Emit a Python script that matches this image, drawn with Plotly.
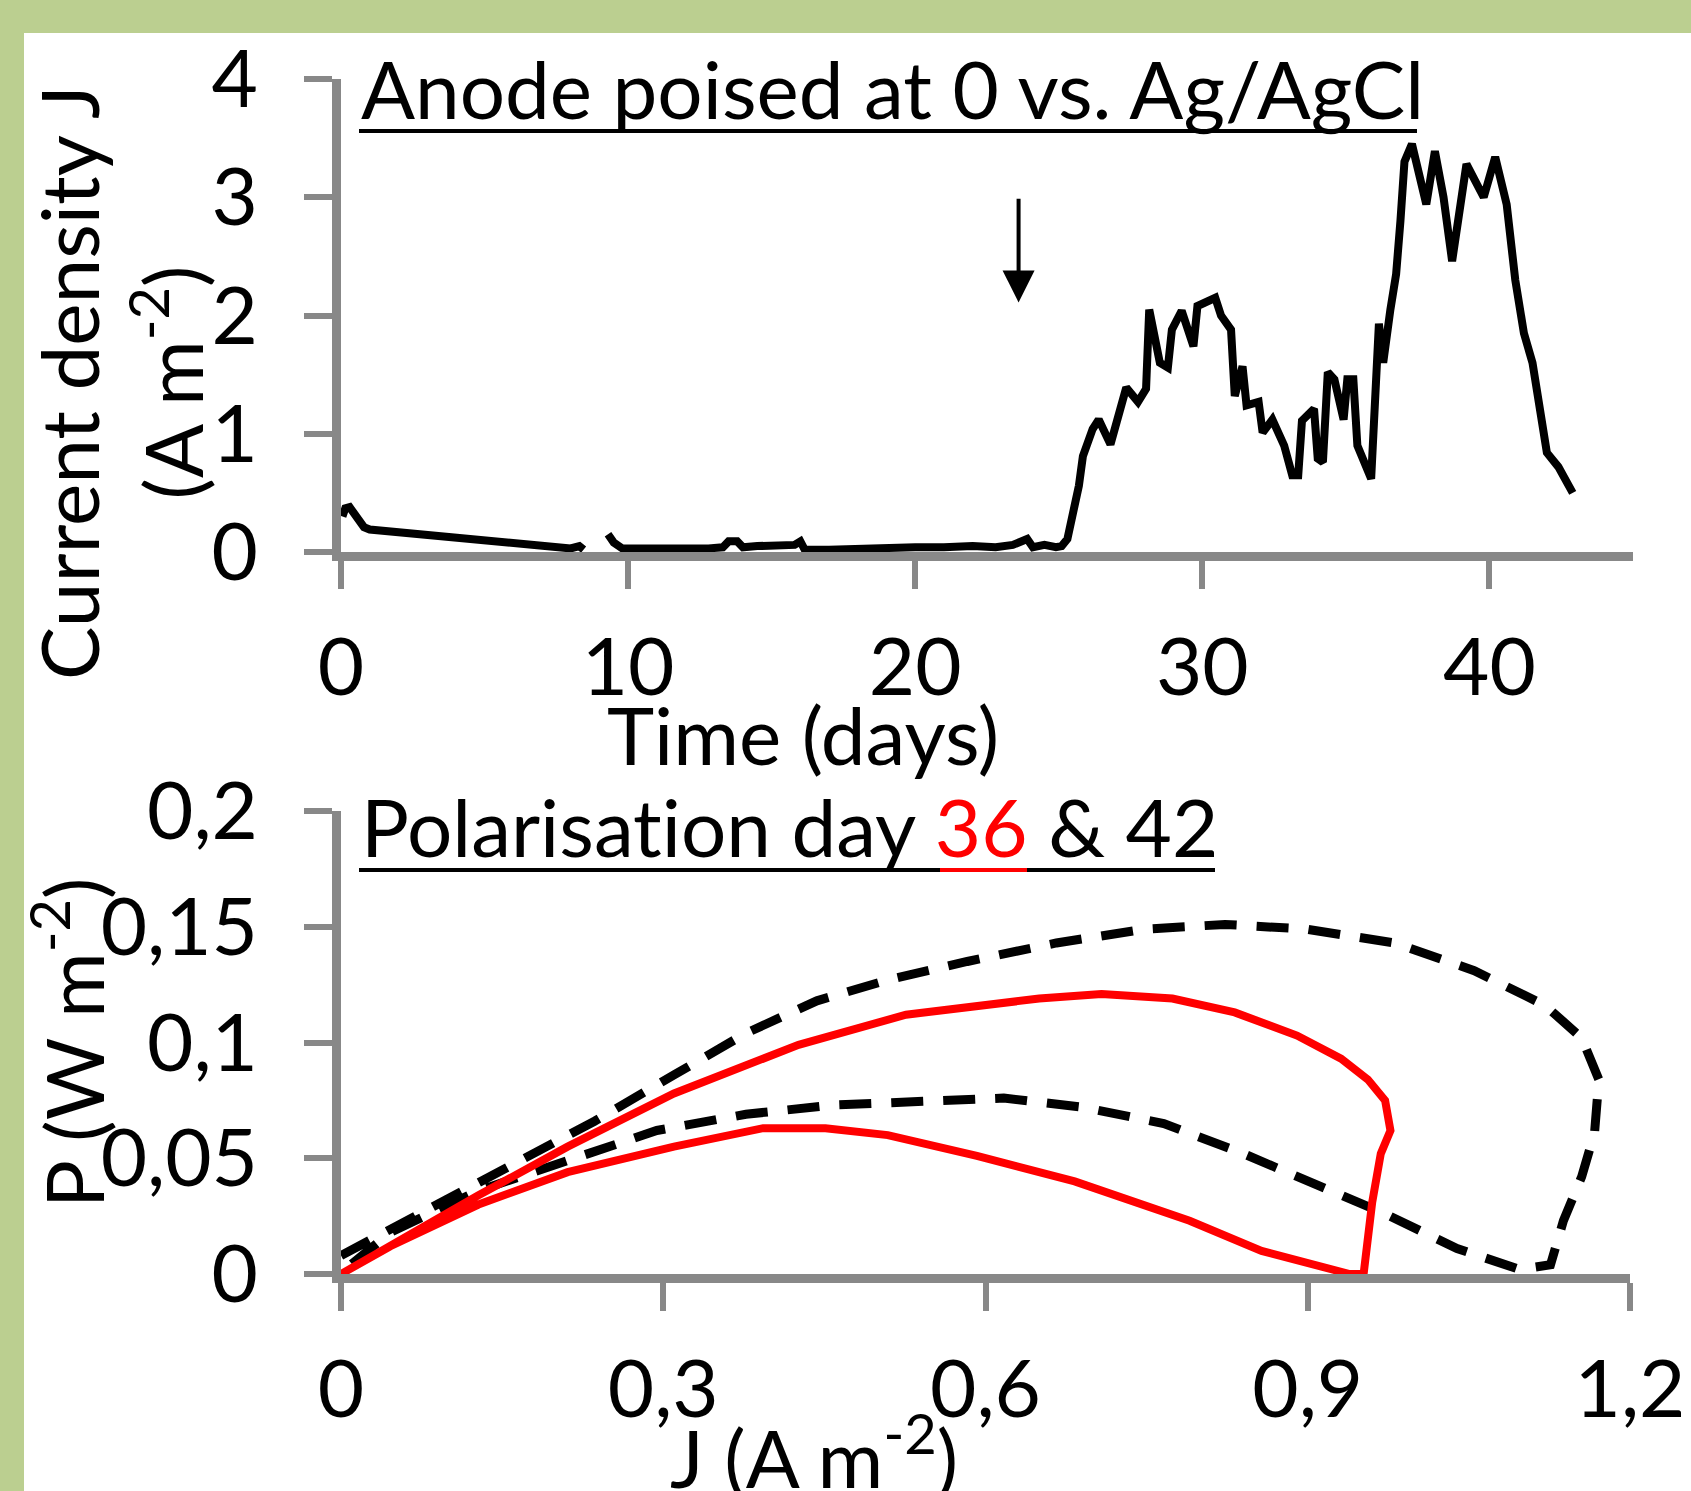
import plotly.graph_objects as go

W, H = 1691, 1491
GREEN = '#bbcf90'
GRAY = '#888888'
FONT = 'Lato'
FS = 80

# ---------------- top chart: current density vs time ----------------
days = [0.05, 0.15, 0.3, 0.5, 0.8, 1.0, 2.5, 4.0, 5.5, 7.0, 7.5, 8.0, 8.3, 8.45, None,
        9.3, 9.5, 9.8, 10.5, 11.2, 12.0, 12.8, 13.3, 13.5, 13.8, 14.0, 14.5, 15.2, 15.8,
        16.0, 16.15, 17.0, 18.0, 19.0, 20.0, 21.0, 22.0, 22.8, 23.4, 23.9, 24.1, 24.5,
        24.9, 25.1, 25.3, 25.7, 25.84, 26.18, 26.39, 26.8, 27.08, 27.35, 27.76, 28.04,
        28.15, 28.38, 28.52, 28.8, 28.94, 29.28, 29.69, 29.83, 30.1, 30.45, 30.65, 31.0,
        31.13, 31.4, 31.54, 31.96, 32.1, 32.44, 32.85, 33.13, 33.34, 33.47, 33.89, 34.02,
        34.2, 34.37, 34.6, 34.92, 35.05, 35.26, 35.4, 35.88, 36.15, 36.3, 36.55, 36.75,
        36.9, 37.04, 37.3, 37.8, 38.1, 38.4, 38.7, 38.9, 39.2, 39.8, 40.2, 40.6, 40.9,
        41.2, 41.5, 42.0, 42.4, 42.9]
current = [0.30, 0.37, 0.38, 0.30, 0.21, 0.19, 0.155, 0.12, 0.085, 0.05, 0.03, 0.03, 0.05, 0.02, None,
           0.15, 0.08, 0.03, 0.03, 0.02, 0.03, 0.03, 0.04, 0.09, 0.09, 0.04, 0.05, 0.05, 0.06,
           0.09, 0.02, 0.02, 0.03, 0.03, 0.04, 0.04, 0.05, 0.04, 0.06, 0.11, 0.04, 0.06,
           0.04, 0.05, 0.11, 0.56, 0.81, 1.04, 1.12, 0.91, 1.15, 1.39, 1.27, 1.38,
           2.05, 1.77, 1.60, 1.56, 1.88, 2.04, 1.74, 2.08, 2.11, 2.15, 2.00, 1.88,
           1.32, 1.57, 1.24, 1.27, 1.01, 1.12, 0.90, 0.65, 0.65, 1.11, 1.21, 0.79,
           0.76, 1.52, 1.46, 1.12, 1.46, 1.46, 0.90, 0.62, 1.93, 1.60, 2.05, 2.35,
           2.80, 3.30, 3.45, 2.94, 3.39, 3.00, 2.46, 2.80, 3.28, 3.00, 3.34, 2.94, 2.30,
           1.85, 1.60, 0.84, 0.72, 0.50]

top_xticks = [0, 10, 20, 30, 40]
top_yticks = [0, 1, 2, 3, 4]
arrow_day = 23.6
arrow_from, arrow_to = 3.0, 2.11

# ---------------- bottom chart: polarisation curves ----------------
j_day36 = [0.0, 0.128, 0.211, 0.31, 0.426, 0.526, 0.65, 0.708, 0.774, 0.832, 0.89, 0.931,
           0.956, 0.972, 0.977, 0.968, 0.96, 0.952, 0.939, 0.857, 0.79, 0.683, 0.592,
           0.509, 0.451, 0.393, 0.31, 0.211, 0.128, 0.046, 0.0]
p_day36 = [0.0, 0.034, 0.055, 0.078, 0.099, 0.112, 0.119, 0.121, 0.119, 0.113, 0.103, 0.093,
           0.084, 0.075, 0.062, 0.052, 0.031, 0.0, 0.0, 0.010, 0.023, 0.040, 0.051,
           0.060, 0.063, 0.063, 0.055, 0.044, 0.030, 0.012, 0.0]
j_day42 = [0.0, 0.087, 0.17, 0.236, 0.31, 0.377, 0.443, 0.509, 0.583, 0.666, 0.749, 0.823,
           0.898, 0.981, 1.055, 1.121, 1.155, 1.171, 1.167, 1.155, 1.138, 1.126, 1.097,
           1.039, 0.972, 0.915, 0.84, 0.766, 0.691, 0.617, 0.542, 0.459, 0.377, 0.294,
           0.211, 0.128, 0.046, 0.004]
p_day42 = [0.008, 0.029, 0.050, 0.066, 0.086, 0.104, 0.118, 0.127, 0.135, 0.143, 0.149, 0.151,
           0.149, 0.143, 0.131, 0.116, 0.102, 0.084, 0.061, 0.042, 0.023, 0.004, 0.002,
           0.011, 0.026, 0.037, 0.052, 0.065, 0.072, 0.076, 0.075, 0.073, 0.069, 0.062,
           0.049, 0.036, 0.018, 0.002]

bot_xtick_vals = [0, 0.3, 0.6, 0.9, 1.2]
bot_xtick_text = ['0', '0,3', '0,6', '0,9', '1,2']
bot_ytick_vals = [0, 0.05, 0.1, 0.15, 0.2]
bot_ytick_text = ['0', '0,05', '0,1', '0,15', '0,2']


def px(x):
    return x / W


def py(y):
    return 1 - y / H


fig = go.Figure()
fig.add_trace(go.Scatter(x=days, y=current, mode='lines', connectgaps=False,
                         line=dict(color='black', width=8), xaxis='x', yaxis='y'))
fig.add_trace(go.Scatter(x=j_day42, y=p_day42, mode='lines',
                         line=dict(color='black', width=9, dash='32px,20px'),
                         xaxis='x2', yaxis='y2'))
fig.add_trace(go.Scatter(x=j_day36, y=p_day36, mode='lines',
                         line=dict(color='#ff0000', width=8), xaxis='x2', yaxis='y2'))

axis_common = dict(showline=True, linecolor=GRAY, linewidth=9, ticks='outside',
                   ticklen=28, tickwidth=6, tickcolor=GRAY, showgrid=False,
                   zeroline=False, automargin=False,
                   tickfont=dict(family=FONT, size=FS, color='black'))

fig.update_layout(
    template='none',
    width=W, height=H, margin=dict(l=0, r=0, t=0, b=0, pad=0, autoexpand=False),
    paper_bgcolor=GREEN, plot_bgcolor='white', showlegend=False,
    xaxis=dict(domain=[px(341), px(1633)], range=[0, 45], anchor='y',
               tickvals=top_xticks, ticklabelstandoff=10, **axis_common),
    yaxis=dict(domain=[py(552), py(79)], range=[0, 4], anchor='x',
               tickvals=top_yticks, ticklabelstandoff=30, **axis_common),
    xaxis2=dict(domain=[px(341), px(1630)], range=[0, 1.2], anchor='y2',
                tickvals=bot_xtick_vals, ticktext=bot_xtick_text, ticklabelstandoff=10,
                **axis_common),
    yaxis2=dict(domain=[py(1274), py(811)], range=[0, 0.2], anchor='x2',
                tickvals=bot_ytick_vals, ticktext=bot_ytick_text, ticklabelstandoff=30,
                **axis_common),
)

# white panel on the green frame
fig.add_shape(type='rect', xref='paper', yref='paper', x0=px(24), x1=1, y0=0, y1=py(33),
              fillcolor='white', line=dict(width=0), layer='below')
# title underlines
for x0, x1, y, col in [(359, 1417, 131, 'black'), (359, 1215, 870, 'black'),
                       (940, 1027, 870, '#ff0000')]:
    fig.add_shape(type='line', xref='paper', yref='paper', x0=px(x0), x1=px(x1),
                  y0=py(y), y1=py(y), line=dict(color=col, width=4), layer='above')

tfont = dict(family=FONT, size=FS, color='black')
annos = [
    dict(text='Anode poised at 0 vs. Ag/AgCl', x=px(359), y=py(88),
         xanchor='left', yanchor='middle'),
    dict(text='Polarisat\u200cion day <span style="color:#ff0000">36</span> &amp; 42',
         x=px(359), y=py(826), xanchor='left', yanchor='middle'),
    dict(text='Time (days)', x=px(803), y=py(734), xanchor='center', yanchor='middle'),
    dict(text='J (A m<sup>-2</sup>)', x=px(814), y=py(1452), xanchor='center', yanchor='middle'),
    dict(text='Current density J<br>(A m<sup>-2</sup>)', x=px(120), y=py(383), textangle=-90,
         xanchor='center', yanchor='middle'),
    dict(text='P (W m<sup>-2</sup>)', x=px(68), y=py(1043), textangle=-90,
         xanchor='center', yanchor='middle'),
]
for a in annos:
    fig.add_annotation(xref='paper', yref='paper', showarrow=False, font=tfont, **a)

fig.add_annotation(x=arrow_day, y=arrow_to, ax=arrow_day, ay=arrow_from, xref='x', yref='y',
                   axref='x', ayref='y', text='', showarrow=True, arrowhead=2,
                   arrowsize=1.6, arrowwidth=4, arrowcolor='black')

fig.write_html('out.html', config={'displayModeBar': False},
               post_script="document.body.style.margin='0';document.body.style.padding='0';")
